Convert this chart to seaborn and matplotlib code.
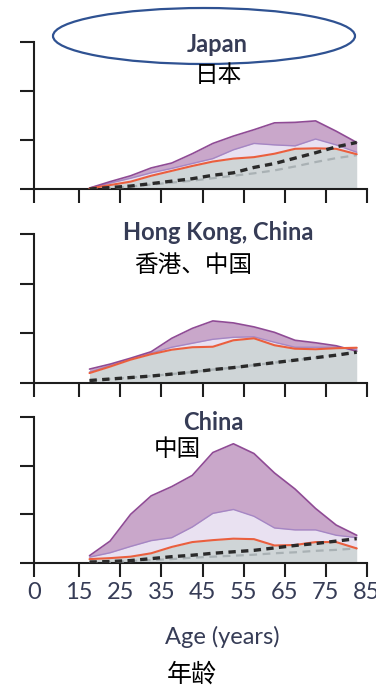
import numpy as np
import pandas as pd
import matplotlib
matplotlib.use("Agg")
import matplotlib.pyplot as plt
from matplotlib.patches import Ellipse
import seaborn as sns

# ---- data -------------------------------------------------------------
ages = [17.5, 22.5, 27.5, 32.5, 37.5, 42.5, 47.5, 52.5, 57.5, 62.5, 67.5, 72.5, 77.5, 82.5]

# the age axis is broken between 0 and 15; "0" sits at the axis origin
axis_origin = 4.0
tick_ages = [axis_origin, 15, 25, 35, 45, 55, 65, 75, 85]
tick_labels = ["0", "15", "25", "35", "45", "55", "65", "75", "85"]
y_ticks = [0, 1, 2, 3]

panel_titles = ["Japan", "Hong Kong, China", "China"]
panel_titles_zh = ["日本", "香港、中国", "中国"]
xlabel_en = "Age (years)"
xlabel_zh = "年龄"

japan_high = [0.02, 0.15, 0.27, 0.43, 0.53, 0.72, 0.93, 1.08, 1.21, 1.35, 1.36, 1.39, 1.18, 0.95]
japan_mid = [0.02, 0.12, 0.22, 0.33, 0.42, 0.52, 0.62, 0.80, 0.93, 0.90, 0.88, 1.02, 0.90, 0.75]
japan_observed = [0.01, 0.08, 0.15, 0.27, 0.37, 0.47, 0.56, 0.62, 0.65, 0.72, 0.82, 0.83, 0.82, 0.71]
japan_expected = [0.00, 0.03, 0.06, 0.11, 0.16, 0.21, 0.28, 0.33, 0.44, 0.52, 0.63, 0.74, 0.86, 0.95]
japan_baseline = [0.00, 0.02, 0.05, 0.09, 0.13, 0.17, 0.22, 0.27, 0.32, 0.38, 0.46, 0.55, 0.63, 0.69]

hk_high = [0.28, 0.38, 0.50, 0.63, 0.90, 1.10, 1.25, 1.21, 1.13, 1.02, 0.86, 0.81, 0.75, 0.64]
hk_mid = [0.22, 0.35, 0.48, 0.60, 0.72, 0.80, 0.88, 0.92, 0.93, 0.82, 0.72, 0.72, 0.72, 0.68]
hk_observed = [0.20, 0.33, 0.47, 0.58, 0.67, 0.72, 0.73, 0.86, 0.90, 0.76, 0.69, 0.68, 0.70, 0.71]
hk_expected = [0.05, 0.08, 0.11, 0.14, 0.18, 0.22, 0.27, 0.31, 0.36, 0.41, 0.46, 0.51, 0.56, 0.62]
hk_baseline = [0.05, 0.08, 0.11, 0.14, 0.18, 0.22, 0.27, 0.31, 0.36, 0.41, 0.46, 0.51, 0.56, 0.62]

china_high = [0.15, 0.45, 1.00, 1.38, 1.57, 1.80, 2.27, 2.45, 2.25, 1.85, 1.52, 1.12, 0.78, 0.57]
china_mid = [0.12, 0.21, 0.34, 0.46, 0.52, 0.74, 1.02, 1.10, 0.96, 0.72, 0.68, 0.68, 0.57, 0.52]
china_observed = [0.08, 0.10, 0.13, 0.20, 0.33, 0.43, 0.47, 0.50, 0.49, 0.36, 0.37, 0.43, 0.43, 0.30]
china_expected = [0.02, 0.03, 0.05, 0.09, 0.13, 0.16, 0.20, 0.23, 0.26, 0.31, 0.36, 0.40, 0.45, 0.50]
china_baseline = [0.01, 0.02, 0.04, 0.06, 0.08, 0.11, 0.13, 0.15, 0.17, 0.20, 0.22, 0.25, 0.27, 0.30]

panels = [
    (japan_high, japan_mid, japan_observed, japan_expected, japan_baseline),
    (hk_high, hk_mid, hk_observed, hk_expected, hk_baseline),
    (china_high, china_mid, china_observed, china_expected, china_baseline),
]

# ---- style --------------------------------------------------------------
sns.set_theme(style="ticks")
plt.rcParams["font.family"] = ["Lato", "Noto Sans CJK SC", "DejaVu Sans"]

C_PURPLE = "#c9a7ca"
C_PURPLE_EDGE = "#8f4b95"
C_LAVENDER = "#e9e1f1"
C_LAVENDER_EDGE = "#a586c4"
C_GREY = "#cfd5d7"
C_RED = "#ea5f3e"
C_DASH = "#2a2a2a"
C_DASH_LIGHT = "#a9b1b4"
C_TEXT = "#363c56"

W, H = 376, 689
fig = plt.figure(figsize=(W / 100, H / 100), dpi=100)

# axes frames in pixel rows (top, bottom)
frames = [(42, 189), (234, 383), (417, 563)]
left_px, right_px = 34, 367

for i, ((top, bot), series) in enumerate(zip(frames, panels)):
    high, mid, obs, exp_, base = series
    ax = fig.add_axes([left_px / W, 1 - bot / H, (right_px - left_px) / W, (bot - top) / H])

    df = pd.DataFrame({"age": ages, "high": high, "mid": mid, "observed": obs,
                       "expected": exp_, "baseline": base})

    ax.fill_between(df["age"], 0, df["observed"], color=C_GREY, lw=0, zorder=1)
    ax.fill_between(df["age"], df["observed"], df["mid"], color=C_LAVENDER, lw=0, zorder=1)
    ax.fill_between(df["age"], df["mid"], df["high"], color=C_PURPLE, lw=0, zorder=1)

    sns.lineplot(data=df, x="age", y="mid", ax=ax, color=C_LAVENDER_EDGE, lw=1.0, zorder=2)
    sns.lineplot(data=df, x="age", y="high", ax=ax, color=C_PURPLE_EDGE, lw=1.2, zorder=2)
    sns.lineplot(data=df, x="age", y="baseline", ax=ax, color=C_DASH_LIGHT, lw=1.6,
                 linestyle=(0, (3.5, 2.5)), zorder=3)
    sns.lineplot(data=df, x="age", y="observed", ax=ax, color=C_RED, lw=1.5, zorder=4)
    sns.lineplot(data=df, x="age", y="expected", ax=ax, color=C_DASH, lw=2.4,
                 linestyle=(0, (2.2, 1.6)), zorder=5)

    ax.set_xlim(axis_origin, 85)
    ax.set_ylim(0, 3)
    ax.set_xticks(tick_ages)
    ax.set_yticks(y_ticks)
    ax.set_yticklabels([])
    if i == len(panels) - 1:
        ax.set_xticklabels(tick_labels)
    else:
        ax.set_xticklabels([])
    ax.set_xlabel("")
    ax.set_ylabel("")
    ax.set_facecolor("none")
    sns.despine(ax=ax)
    for s in ("left", "bottom"):
        ax.spines[s].set_linewidth(1.5)
        ax.spines[s].set_color("#1e1e1e")
    ax.tick_params(axis="both", direction="out", length=10, width=1.5, color="#1e1e1e",
                   labelsize=17, labelcolor=C_TEXT, pad=4)

# ---- titles ------------------------------------------------------------
def ftext(x, y, s, **kw):
    fig.text(x / W, 1 - y / H, s, ha="center", va="center", **kw)

ftext(217, 45, panel_titles[0], fontsize=17, fontweight="bold", color=C_TEXT)
ftext(218, 76, panel_titles_zh[0], fontsize=17, color="black", family=["Noto Sans CJK SC"])
ftext(218, 232, panel_titles[1], fontsize=17, fontweight="bold", color=C_TEXT)
ftext(193, 265, panel_titles_zh[1], fontsize=17, color="black", family=["Noto Sans CJK SC"])
ftext(213, 423, panel_titles[2], fontsize=17, fontweight="bold", color=C_TEXT)
ftext(177, 450, panel_titles_zh[2], fontsize=17, color="black", family=["Noto Sans CJK SC"])

ftext(222, 637, xlabel_en, fontsize=17, color=C_TEXT)
ftext(192, 675, xlabel_zh, fontsize=18, color="black", family=["Noto Sans CJK SC"])

# highlight ring around the first panel title
fig.patches.append(Ellipse((204 / W, 1 - 36 / H), 302 / W, 56 / H, transform=fig.transFigure,
                           fill=False, edgecolor="#2f5292", lw=1.6))

fig.savefig("out.png", dpi=100)
